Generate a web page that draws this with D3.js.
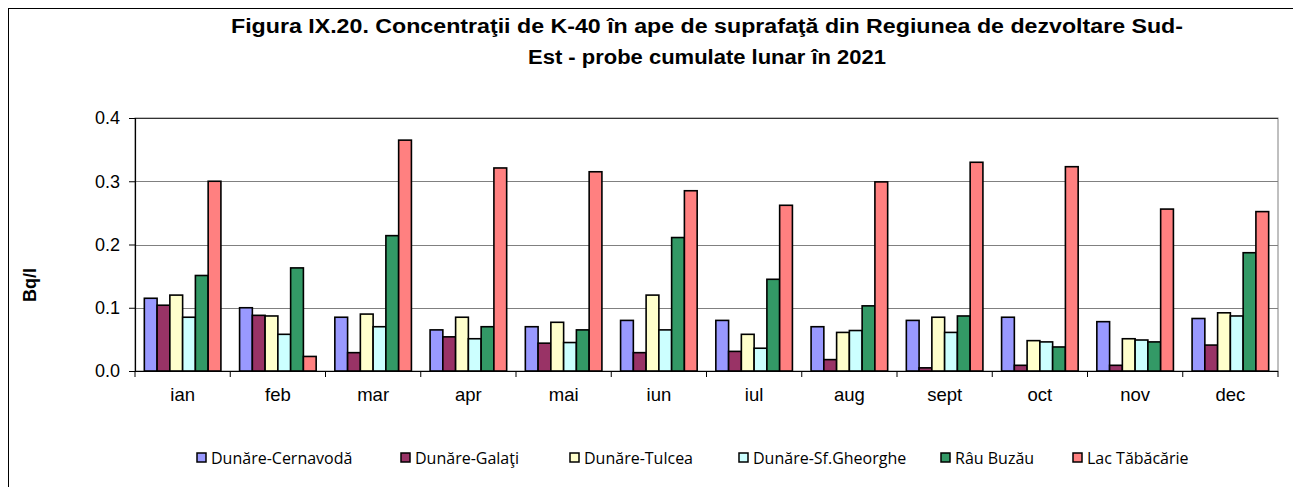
<!DOCTYPE html>
<html>
<head>
<meta charset="utf-8">
<script src="https://cdn.jsdelivr.net/npm/d3@7"></script>
<style>
  body { margin: 0; background: #fff; }
  svg { display: block; }
</style>
</head>
<body>
<div id="chart"></div>
<script>
const months = ["ian", "feb", "mar", "apr", "mai", "iun", "iul", "aug", "sept", "oct", "nov", "dec"];
const seriesNames = ["Dunăre-Cernavodă", "Dunăre-Galaţi", "Dunăre-Tulcea", "Dunăre-Sf.Gheorghe", "Râu Buzău", "Lac Tăbăcărie"];
const seriesColors = ["#9999ff", "#993366", "#ffffcc", "#ccffff", "#339966", "#ff8080"];

const cernavoda = [0.115, 0.100, 0.085, 0.065, 0.070, 0.080, 0.080, 0.070, 0.080, 0.085, 0.078, 0.083];
const galati    = [0.104, 0.088, 0.029, 0.054, 0.044, 0.029, 0.031, 0.018, 0.005, 0.009, 0.009, 0.041];
const tulcea    = [0.120, 0.087, 0.090, 0.085, 0.077, 0.120, 0.058, 0.061, 0.085, 0.048, 0.051, 0.092];
const sfGheorghe = [0.085, 0.058, 0.070, 0.051, 0.045, 0.065, 0.036, 0.064, 0.061, 0.046, 0.049, 0.087];
const rauBuzau  = [0.151, 0.163, 0.214, 0.070, 0.065, 0.211, 0.145, 0.103, 0.087, 0.038, 0.046, 0.187];
const lacTabacarie = [0.300, 0.023, 0.365, 0.321, 0.315, 0.285, 0.262, 0.299, 0.330, 0.323, 0.256, 0.252];

const yTicks = [0, 0.1, 0.2, 0.3, 0.4];

const series = [cernavoda, galati, tulcea, sfGheorghe, rauBuzau, lacTabacarie];

const W = 1293, H = 487;
const plot = { left: 135, right: 1278, top: 118, bottom: 371 };
const arial = "Arial, 'Liberation Sans', sans-serif";

const svg = d3.select("#chart").append("svg")
    .attr("width", W)
    .attr("height", H);

// outer chart frame (cut at right and bottom like the source)
svg.append("rect")
    .attr("x", 8.5).attr("y", 8.5)
    .attr("width", W + 10).attr("height", H + 10)
    .attr("fill", "none")
    .attr("stroke", "#000")
    .attr("stroke-width", 1);

// title
const title = svg.append("text")
    .attr("text-anchor", "middle")
    .style("font-family", arial)
    .style("font-weight", "bold")
    .style("font-size", "20px")
    .attr("fill", "#000");
title.append("tspan").attr("x", 707).attr("y", 33)
    .attr("textLength", 952).attr("lengthAdjust", "spacingAndGlyphs")
    .text("Figura IX.20. Concentraţii de K-40 în ape de suprafaţă din Regiunea de dezvoltare Sud-");
title.append("tspan").attr("x", 707).attr("y", 64)
    .attr("textLength", 358).attr("lengthAdjust", "spacingAndGlyphs")
    .text("Est - probe cumulate lunar în 2021");

const x0 = d3.scaleBand()
    .domain(months)
    .range([plot.left, plot.right])
    .paddingInner(0.196)
    .paddingOuter(0.098);

const x1 = d3.scaleBand()
    .domain(d3.range(series.length))
    .range([0, x0.bandwidth()]);

const y = d3.scaleLinear()
    .domain([0, 0.4])
    .range([plot.bottom, plot.top]);

// plot area border
svg.append("rect")
    .attr("x", plot.left).attr("y", plot.top)
    .attr("width", plot.right - plot.left)
    .attr("height", plot.bottom - plot.top)
    .attr("fill", "none")
    .attr("stroke", "#808080")
    .attr("stroke-width", 1);

// gridlines
svg.append("g")
    .selectAll("line")
    .data(yTicks.slice(1))
    .join("line")
    .attr("x1", plot.left).attr("x2", plot.right)
    .attr("y1", d => Math.round(y(d)) + 0.5)
    .attr("y2", d => Math.round(y(d)) + 0.5)
    .attr("stroke", d => d === 0.4 ? "#333" : "#808080")
    .attr("stroke-width", 1.2);

// bars
const groups = svg.append("g")
    .selectAll("g")
    .data(months)
    .join("g")
    .attr("transform", d => `translate(${x0(d)},0)`);

groups.selectAll("rect")
    .data((m, i) => series.map((s, k) => ({ k, v: s[i] })))
    .join("rect")
    .attr("x", d => x1(d.k))
    .attr("y", d => y(d.v))
    .attr("width", x1.bandwidth())
    .attr("height", d => y(0) - y(d.v))
    .attr("fill", d => seriesColors[d.k])
    .attr("stroke", "#000")
    .attr("stroke-width", 1.6);

// y axis
const yAxis = svg.append("g")
    .attr("transform", `translate(${plot.left},0)`)
    .call(d3.axisLeft(y).tickValues(yTicks).tickFormat(d3.format(".1f")).tickSize(6).tickPadding(9));
yAxis.select(".domain").attr("stroke", "#000").attr("stroke-width", 1.2);
yAxis.selectAll(".tick line").attr("stroke", "#000");
yAxis.selectAll("text")
    .style("font-family", arial)
    .style("font-size", "18px")
    .attr("fill", "#000");

// x axis: ticks between categories
const xAxisG = svg.append("g");
xAxisG.append("line")
    .attr("x1", plot.left).attr("x2", plot.right)
    .attr("y1", plot.bottom + 0.5).attr("y2", plot.bottom + 0.5)
    .attr("stroke", "#000").attr("stroke-width", 1.2);
const step = x0.step();
xAxisG.selectAll("line.tk")
    .data(d3.range(months.length + 1))
    .join("line")
    .attr("class", "tk")
    .attr("x1", i => plot.left + i * step)
    .attr("x2", i => plot.left + i * step)
    .attr("y1", plot.bottom)
    .attr("y2", plot.bottom + 6)
    .attr("stroke", "#000");
xAxisG.selectAll("text")
    .data(months)
    .join("text")
    .attr("x", d => x0(d) + x0.bandwidth() / 2)
    .attr("y", 401)
    .attr("text-anchor", "middle")
    .style("font-family", arial)
    .style("font-size", "18.5px")
    .attr("fill", "#000")
    .text(d => d);

// y axis title
svg.append("text")
    .attr("transform", "translate(36,285) rotate(-90)")
    .attr("text-anchor", "middle")
    .style("font-family", arial)
    .style("font-weight", "bold")
    .style("font-size", "18px")
    .text("Bq/l");

// legend
const legendX = [197, 401, 570, 739, 941, 1073];
const legend = svg.append("g")
    .selectAll("g")
    .data(seriesNames)
    .join("g")
    .attr("transform", (d, i) => `translate(${legendX[i]},458)`);
legend.append("rect")
    .attr("x", 0).attr("y", -5)
    .attr("width", 9).attr("height", 9)
    .attr("fill", (d, i) => seriesColors[i])
    .attr("stroke", "#000")
    .attr("stroke-width", 1.5);
legend.append("text")
    .attr("x", 14)
    .attr("y", 5.5)
    .style("font-family", "'Open Sans', sans-serif")
    .style("font-size", "16px")
    .attr("fill", "#000")
    .text(d => d);
</script>
</body>
</html>
